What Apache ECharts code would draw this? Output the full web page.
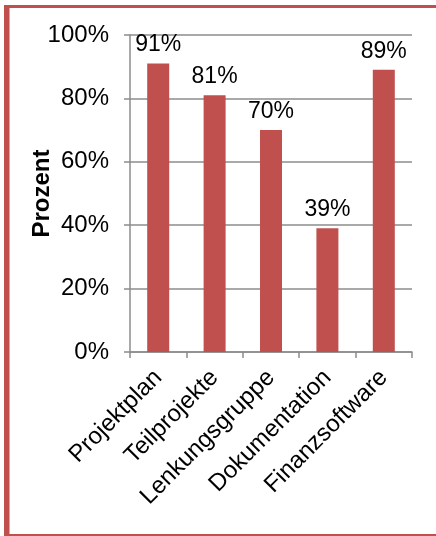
<!DOCTYPE html>
<html><head><meta charset="utf-8">
<script src="https://cdn.jsdelivr.net/npm/echarts@6/dist/echarts.min.js"></script>
<style>html,body{margin:0;padding:0;background:#fff}#c{width:436px;height:536px}</style>
</head><body><div id="c"></div>
<script>
const categories = ['Projektplan','Teilprojekte','Lenkungsgruppe','Dokumentation','Finanzsoftware'];
const values = [91, 81, 70, 39, 89];
const yTicks = [0, 20, 40, 60, 80, 100];
const axisName = 'Prozent';

const chart = echarts.init(document.getElementById('c'), null, {renderer:'canvas'});
const font = 'Liberation Sans, Arial, sans-serif';
chart.setOption({
  animation:false,
  textStyle:{fontFamily:font},
  graphic:[
    {type:'rect', shape:{x:4,y:5,width:5,height:531}, style:{fill:'#C0504D'}, silent:true},
    {type:'rect', shape:{x:4,y:5,width:432,height:3}, style:{fill:'#C0504D'}, silent:true},
    {type:'rect', shape:{x:4,y:534,width:432,height:2}, style:{fill:'#C0504D'}, silent:true},
    {type:'rect', shape:{x:9,y:8,width:1,height:526}, style:{fill:'#d9a6a5'}, silent:true}
  ],
  grid:{left:130, right:24, top:35, bottom:184, containLabel:false},
  xAxis:{
    type:'category', data:categories,
    axisLine:{lineStyle:{color:'#8c8c8c', width:1.5}},
    axisTick:{show:true, alignWithLabel:false, length:6, lineStyle:{color:'#8c8c8c', width:1.5}},
    axisLabel:{rotate:45, interval:0, margin:22, color:'#000', fontSize:24, fontFamily:font}
  },
  yAxis:{
    type:'value', min:0, max:100, interval:20,
    name:axisName, nameLocation:'middle', nameGap:76, nameRotate:90, nameMoveOverlap:false,
    nameTextStyle:{fontSize:24, fontWeight:'bold', color:'#000', fontFamily:font},
    axisLine:{show:true, lineStyle:{color:'#8c8c8c', width:1.5}},
    axisTick:{show:true, inside:false, length:6, lineStyle:{color:'#8c8c8c', width:1.5}},
    splitLine:{show:true, lineStyle:{color:'#8c8c8c', width:1.5}},
    axisLabel:{margin:21, color:'#000', fontSize:24, fontFamily:font,
      formatter:function(v){return yTicks.indexOf(v)>=0 ? v+'%' : '';}}
  },
  series:[{
    type:'bar', data:values, barWidth:'39%',
    itemStyle:{color:'#C0504D'},
    label:{show:true, position:'top', distance:7, color:'#000', fontSize:23, fontFamily:font,
      formatter:function(p){return p.value+'%';}}
  }]
});
</script></body></html>
